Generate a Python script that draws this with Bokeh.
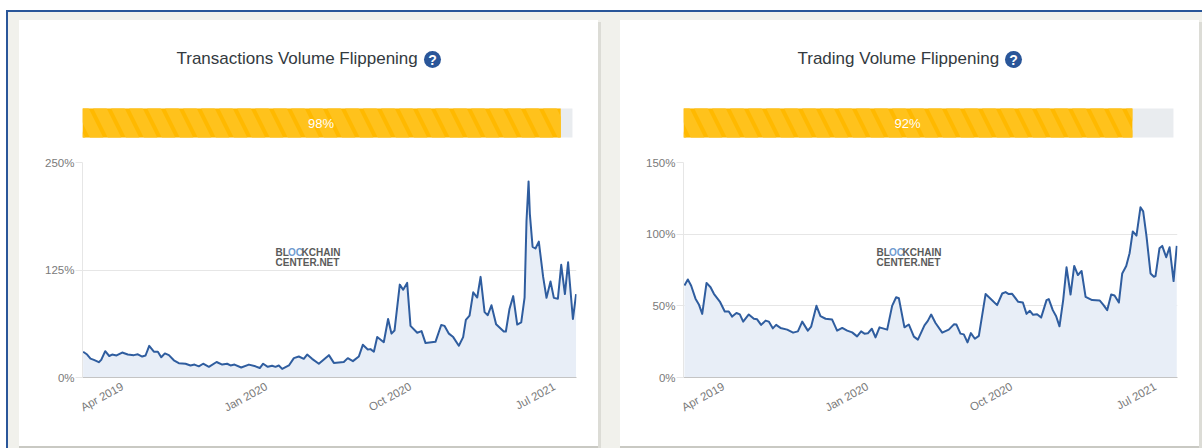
from bokeh.plotting import figure
from bokeh.layouts import row, column
from bokeh.models import FixedTicker, Range1d, Label
from bokeh.embed import file_html
from bokeh.resources import INLINE

tx_title = "Transactions Volume Flippening"
tr_title = "Trading Volume Flippening"
tx_share = 98
tr_share = 92
tick_months = [2.5, 11.5, 20.5, 29.5]
tick_labels = ["Apr 2019", "Jan 2020", "Oct 2020", "Jul 2021"]
tx_yticks = [0, 125, 250]
tr_yticks = [0, 50, 100, 150]

tx_months = [0.04,.29,.5,.71,1.02,1.17,1.42,1.67,1.85,2.13,2.48,2.83,3.21,3.46,3.73,3.94,4.17,4.46,4.71,4.92,5.15,5.4,5.71,6.02,6.44,6.75,7,7.27,7.54,7.9,8.38,8.73,9.04,9.25,9.5,9.92,10.4,10.81,11.08,11.29,11.58,11.85,12.06,12.27,12.48,12.9,13.21,13.52,13.83,14.04,14.35,14.77,
15.4,15.71,16.33,16.58,16.9,17.27,17.52,17.83,18,18.21,18.42,18.83,19.1,19.31,19.5,19.83,20.04,20.29,20.5,20.92,21.19,21.44,22.06,22.42,22.63,22.9,23.17,23.52,23.79,23.96,24.19,24.42,24.67,24.88,25.13,25.33,25.56,25.85,26.33,26.46,26.69,26.92,27.17,27.42,27.63,27.75,27.88,27.96,28.13,28.31,28.52,28.79,29,29.25,29.46,29.71,29.92,30.15,30.35,30.65,30.85]
tx_values = [29.9,26.7,22,20.5,17.8,20.5,30.6,25,26.7,25.6,29,26.7,26,27,24.4,25.6,36.8,30,30,23.6,28,26,20,16.7,16,14,15,13,16,12.4,18,15,16,14,15,11.6,15,13,11,16,12.4,13.6,12.4,14,10,14,22.5,24.4,21.7,26.7,21.7,16,
26,17,18,22.5,19,24.4,38,32.6,33,30,47,41,68,51,54.6,108,102,110,60,52,54,40,41.5,61,60,51,47,37,47,67,72,99,93,117,76,72.5,84,62,53.5,53.5,80,94.6,61.6,64,93,182,228,190,152,150,158,117,92.6,111.6,92.6,91.5,131,97,134,68,97]

tr_months = [.06,.27,.48,.75,.96,1.17,1.44,1.69,1.9,2.27,2.58,2.83,3.04,3.31,3.52,3.73,4.08,4.4,4.6,4.85,5.13,5.33,5.58,5.79,6.06,6.48,6.85,7.15,7.42,7.77,7.98,8.31,8.56,8.88,9.29,9.6,9.92,10.23,10.54,10.85,11.1,11.31,11.52,11.77,12,12.25,12.73,13.04,13.29,13.46,13.81,14.08,14.4,14.65,
15.06,15.27,15.48,15.75,16.17,16.58,16.9,17.06,17.31,17.52,17.75,17.96,18.21,18.46,18.88,19.19,19.6,19.92,20.13,20.33,20.54,20.92,21.21,21.44,21.65,21.85,22.1,22.35,22.69,22.83,23.08,23.29,23.5,23.73,23.94,24.19,24.42,24.65,24.88,25.13,25.54,26.02,26.23,26.48,26.73,26.94,27.21,27.42,27.67,27.88,28.08,28.31,28.56,28.73,28.94,29.19,29.4,29.5,29.75,29.92,30.17,30.38,30.63,30.83]
tr_values = [64.2,68.4,64,55,51,44.4,66,63,58.4,53,46,46,42.5,45,44,39,44,41,40.6,36.7,39.7,39,34.3,36.7,34.6,33.4,31.3,32.2,39,32.7,35.5,50,42.8,41,40.4,32.7,34.6,32.7,31.5,28.7,32.2,30.6,30.8,34,28,35,33.4,50,56,55.3,35,37,28.5,26.4,
36.4,39.5,43.9,38,31.3,33.4,37.1,36.9,30.6,30.1,24.5,31,27,29,58.2,55,50.5,58.6,59.6,58.2,58.4,52.8,52.3,44.4,46.5,43.7,44.1,41.8,54,54.7,47,42.7,35.7,54,76.9,57.9,77.8,71.5,74.3,56.3,54,53.7,50.9,47,57.9,57.2,52.3,72.6,77.8,86.7,101.9,99,118.7,115.9,98.3,72.6,70.3,70.8,90.2,91.8,83.9,90.9,67.3,91.8]

BG = "#f1f1ec"
SHADOW = "#dcdcd6"
BLUE = "#2a5699"
LINE = "#2f5d9f"
FILL = "#e8eef7"
W = 601
TOP_H = 140
BOT_H = 308
FONT = "Liberation Sans"
PX_PER_SHARE = 4.89
FRAME_L, FRAME_R = 82, 576  # the column aligns the top panel's frame with the chart's frame


def text(p, s, x, y, size, color, align="left", style="normal"):
    p.add_layout(Label(x=x, y=y, text=s, text_font=FONT, text_font_size=size, text_color=color,
                       text_align=align, text_baseline="middle", text_font_style=style))


def top_panel(title, share, title_x, icon_x):
    sx = lambda px: (px - 81) / PX_PER_SHARE
    p = figure(width=W, height=TOP_H, output_backend="svg", toolbar_location=None,
               x_range=Range1d(sx(FRAME_L), sx(FRAME_R)), y_range=Range1d(TOP_H, 0),
               x_axis_type=None, y_axis_type=None,
               min_border=0, border_fill_color=None, background_fill_color=None, outline_line_color=None)
    p.grid.visible = False
    p.hbar(y=[122.5], left=[0], right=[100.4], height=29, fill_color="#e9ecef", line_color=None)
    p.hbar(y=[122.5], left=[0], right=[share], height=29, fill_color="#ffb900", line_color=None,
           hatch_pattern="left_diagonal_line", hatch_color="#ffc21c", hatch_scale=36, hatch_weight=12)
    text(p, title, sx(title_x), 58, "17px", "#333a40")
    p.scatter(x=[sx(icon_x)], y=[59], size=17, marker="circle", fill_color=BLUE, line_color=None)
    text(p, "?", sx(icon_x), 59.5, "14px", "#ffffff", align="center", style="bold")
    text(p, f"{share}%", share / 2, 122.5, "13px", "#ffffff", align="center")
    return p


def chart_panel(months, values, ymax, yticks):
    p = figure(width=W, height=BOT_H, output_backend="svg", toolbar_location=None,
               x_range=Range1d(0, 30.875), y_range=Range1d(0, ymax),
               min_border_left=82, min_border_right=25, min_border_top=22, min_border_bottom=71,
               border_fill_color=None, background_fill_color=None, outline_line_color=None)
    p.xgrid.visible = False
    p.ygrid.ticker = FixedTicker(ticks=yticks)
    p.ygrid.grid_line_color = "#e6e6e6"
    p.xaxis.ticker = FixedTicker(ticks=tick_months)
    p.xaxis.major_label_overrides = dict(zip(tick_months, tick_labels))
    p.xaxis.major_label_orientation = 0.5
    p.xaxis.major_tick_line_color = None
    p.xaxis.minor_tick_line_color = None
    p.xaxis.axis_line_color = "#c4c4c4"
    p.xaxis.major_label_standoff = 2
    p.yaxis.ticker = FixedTicker(ticks=yticks)
    p.yaxis.major_label_overrides = {t: f"{t}%" for t in yticks}
    p.yaxis.axis_line_color = "#e6e6e6"
    p.yaxis.major_tick_line_color = "#e6e6e6"
    p.yaxis.major_tick_in = 0
    p.yaxis.major_tick_out = 7
    p.yaxis.minor_tick_line_color = None
    p.yaxis.major_label_standoff = 1
    for ax in (p.xaxis, p.yaxis):
        ax.major_label_text_font = FONT
        ax.major_label_text_font_size = "11.5px"
        ax.major_label_text_color = "#7a7a7a"
    p.varea(x=months, y1=[0] * len(months), y2=values, color=FILL)
    p.line(x=months, y=values, color=LINE, line_width=2, line_join="round")
    xs = 30.875 / 494
    ys = ymax / 215
    x0 = (275 - 82) * xs
    y1, y2 = (377 - 252) * ys, (377 - 261.5) * ys
    text(p, "BL", x0, y1, "10px", "#5a5a5a", style="bold")
    text(p, "OC", x0 + 12.5 * xs, y1, "10px", "#6f9bd0", style="bold")
    text(p, "KCHAIN", x0 + 26 * xs, y1, "10px", "#5a5a5a", style="bold")
    text(p, "CENTER.NET", x0, y2, "10px", "#5a5a5a", style="bold")
    return p


def layer(color, x, y, w, h):
    return f"linear-gradient({color},{color}) {x}px {y}px/{w}px {h}px no-repeat"


layers = [
    layer(BLUE, 6, 10, 1196, 2), layer(BLUE, 6, 10, 2, 438),
    layer("#ffffff", 19, 20, 579, 426), layer("#ffffff", 620, 20, 579, 426),
    layer(SHADOW, 598, 22, 3, 426), layer(SHADOW, 1199, 22, 3, 426),
    layer("#c9c9c3", 19, 446, 582, 2), layer("#c9c9c3", 620, 446, 582, 2),
    layer(BG, 8, 12, 1194, 436),
]
left = column(top_panel(tx_title, tx_share, 176, 432), chart_panel(tx_months, tx_values, 250, tx_yticks), spacing=0)
right = column(top_panel(tr_title, tr_share, 196, 412), chart_panel(tr_months, tr_values, 150, tr_yticks), spacing=0)
page = row(left, right, spacing=0, styles={"background": ",".join(layers) + ",#ffffff"})
open("out.html", "w").write(file_html(page, INLINE))
